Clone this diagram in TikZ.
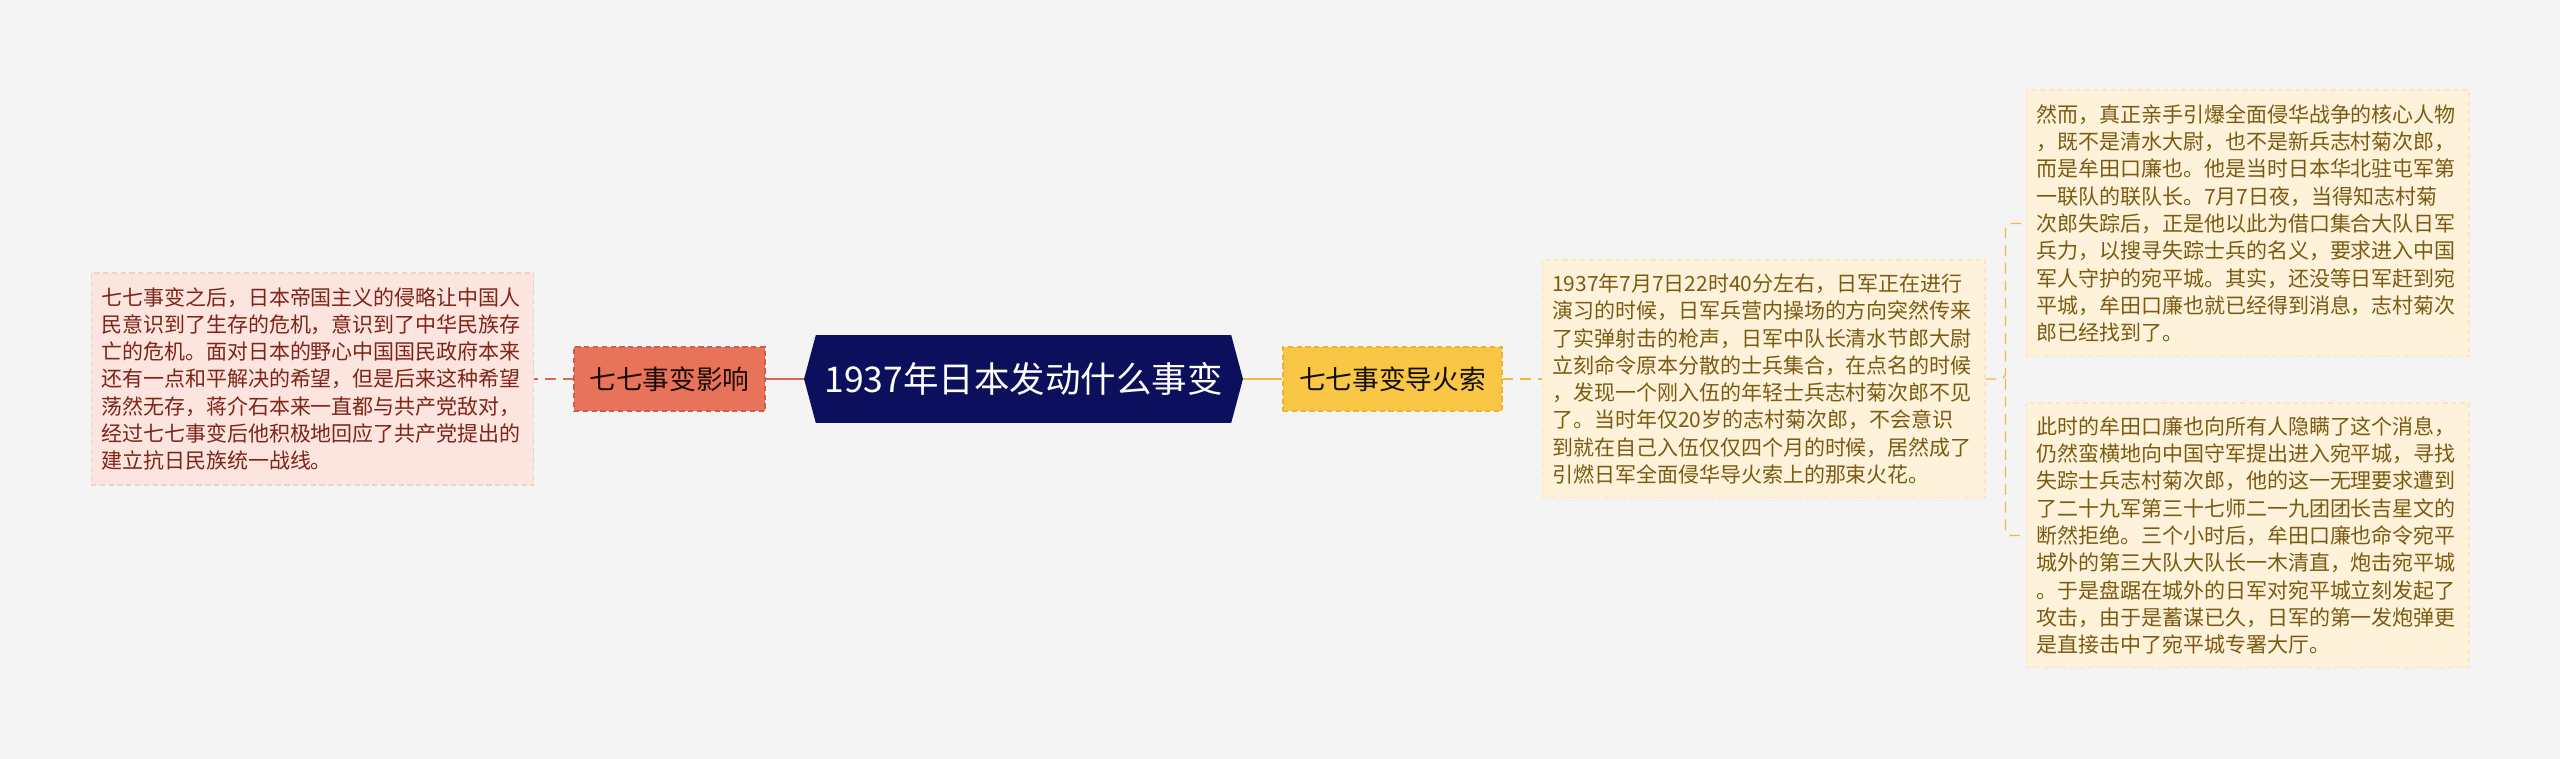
\documentclass[tikz,border=0pt]{standalone}
\usepackage{fontspec}
\setmainfont{Noto Sans CJK SC}
\usetikzlibrary{shapes.symbols}
\definecolor{paper}{HTML}{F4F4F4}
\definecolor{navy}{HTML}{0C0F5C}
\definecolor{coral}{HTML}{E8735B}
\definecolor{coraledge}{HTML}{CF5C46}
\definecolor{blush}{HTML}{FCE4DF}
\definecolor{blushedge}{HTML}{F5CEC5}
\definecolor{rust}{HTML}{7F2416}
\definecolor{gold}{HTML}{F9C645}
\definecolor{goldedge}{HTML}{ECB233}
\definecolor{cream}{HTML}{FEF3DA}
\definecolor{creamedge}{HTML}{FBE6BD}
\definecolor{olive}{HTML}{7B5A12}
\definecolor{redlink}{HTML}{DA674F}
\definecolor{goldlink}{HTML}{F2B941}
\begin{document}
\begin{tikzpicture}[x=0.02cm, y=-0.02cm,
  detail/.style={rectangle, draw, dash pattern=on 3pt off 2pt, line width=0.6pt,
    text width=8.46cm, inner xsep=0.2cm, inner ysep=0.1cm, align=left,
    font=\fontsize{11.95pt}{15.54pt}\selectfont},
  branch/.style={rectangle, draw, dash pattern=on 3pt off 2pt, line width=0.7pt,
    minimum height=1.28cm, inner xsep=0cm, font=\fontsize{15.2pt}{18pt}\selectfont},
  thick link/.style={line width=1.7pt},
  thin link/.style={line width=0.8pt, dash pattern=on 6pt off 4pt}]
\fill[paper] (0,0) rectangle (2560,759);
\node[shape=signal, signal to=east and west, signal pointer angle=150, fill=navy,
  minimum width=8.78cm, minimum height=1.76cm, inner xsep=0cm, text=white,
  font=\fontsize{20.2pt}{24pt}\selectfont] (root) at (1023.5,379) {1937年日本发动什么事变};
\node[branch, fill=coral, draw=coraledge, text=black!80!rust, minimum width=3.82cm] (impact) at (669.5,379) {七七事变影响};
\node[branch, fill=gold, draw=goldedge, text=black!85!olive, minimum width=4.38cm] (spark) at (1392.5,379) {七七事变导火索};
\node[detail, fill=blush, draw=blushedge, text=rust, minimum height=4.24cm] (effect) at (312.5,379) {七七事变之后，日本帝国主义的侵略让中国人\\民意识到了生存的危机，意识到了中华民族存\\亡的危机。面对日本的野心中国国民政府本来\\还有一点和平解决的希望，但是后来这种希望\\荡然无存，蒋介石本来一直都与共产党敌对，\\经过七七事变后他积极地回应了共产党提出的\\建立抗日民族统一战线。};
\node[detail, fill=cream, draw=creamedge, text=olive, minimum height=4.76cm] (fuse) at (1763.5,379) {1937年7月7日22时40分左右，日军正在进行\\演习的时候，日军兵营内操场的方向突然传来\\了实弹射击的枪声，日军中队长清水节郎大尉\\立刻命令原本分散的士兵集合，在点名的时候\\，发现一个刚入伍的年轻士兵志村菊次郎不见\\了。当时年仅20岁的志村菊次郎，不会意识\\到就在自己入伍仅仅四个月的时候，居然成了\\引燃日军全面侵华导火索上的那束火花。};
\node[detail, fill=cream, draw=creamedge, text=olive, minimum height=5.34cm] (story1) at (2247.5,223.5) {然而，真正亲手引爆全面侵华战争的核心人物\\，既不是清水大尉，也不是新兵志村菊次郎，\\而是牟田口廉也。他是当时日本华北驻屯军第\\一联队的联队长。7月7日夜，当得知志村菊\\次郎失踪后，正是他以此为借口集合大队日军\\兵力，以搜寻失踪士兵的名义，要求进入中国\\军人守护的宛平城。其实，还没等日军赶到宛\\平城，牟田口廉也就已经得到消息，志村菊次\\郎已经找到了。};
\node[detail, fill=cream, draw=creamedge, text=olive, minimum height=5.3cm] (story2) at (2247.5,535.5) {此时的牟田口廉也向所有人隐瞒了这个消息，\\仍然蛮横地向中国守军提出进入宛平城，寻找\\失踪士兵志村菊次郎，他的这一无理要求遭到\\了二十九军第三十七师二一九团团长吉星文的\\断然拒绝。三个小时后，牟田口廉也命令宛平\\城外的第三大队大队长一木清直，炮击宛平城\\。于是盘踞在城外的日军对宛平城立刻发起了\\攻击，由于是蓄谋已久，日军的第一发炮弹更\\是直接击中了宛平城专署大厅。};
\draw[thick link, redlink] (impact.east) -- (root.west);
\draw[thick link, goldlink] (root.east) -- (spark.west);
\draw[thin link, redlink] (impact.west) -- (effect.east);
\draw[thin link, goldlink] (spark.east) -- (fuse.west);
\draw[thin link, goldlink, rounded corners=3pt] (fuse.east) -- ++(20,0) coordinate (fork) |- (story1.west);
\draw[thin link, goldlink, rounded corners=3pt] (fork) |- (story2.west);
\end{tikzpicture}
\end{document}
